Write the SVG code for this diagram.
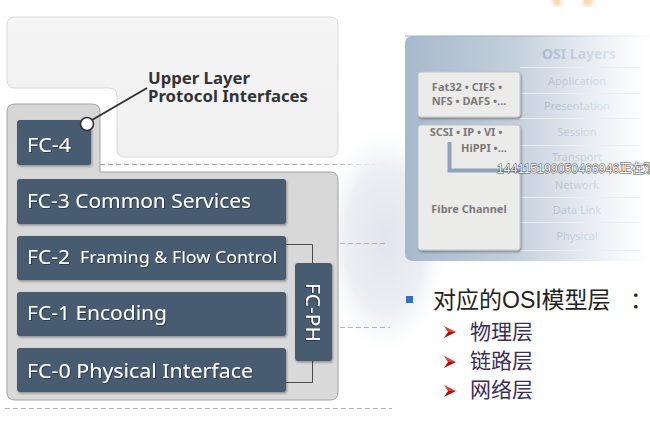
<svg xmlns="http://www.w3.org/2000/svg" width="650" height="424" viewBox="0 0 650 424">
<defs>
<style>
.bar{fill:#475c70}
.bt{font-family:"Noto Sans","Open Sans",sans-serif;fill:#fff;font-size:20px}
.bs{font-size:16.5px}
.lbl{font-family:"Noto Sans","Open Sans",sans-serif;font-weight:bold;fill:#333;font-size:16px}
.box{fill:#ebebe9;stroke:#c4c6c8;stroke-width:1}
.bx{font-family:"Noto Sans","Open Sans",sans-serif;font-weight:bold;fill:#7a7a7a;font-size:11px;text-anchor:middle}
.osi{font-family:"Noto Sans","Open Sans",sans-serif;font-size:11px;fill:url(#osiText);text-anchor:middle}
.dash{fill:none;stroke:#b5b5b5;stroke-width:1;stroke-dasharray:5 3}
.cn{font-family:"Liberation Sans","Noto Sans CJK SC",sans-serif}
.sub{font-family:"Noto Sans CJK SC",sans-serif;font-size:21px;fill:#3b2d5c}
</style>
<linearGradient id="panelG" x1="405" y1="0" x2="650" y2="0" gradientUnits="userSpaceOnUse">
<stop offset="0" stop-color="#a6b9cc"/>
<stop offset="0.45" stop-color="#c3d0dc"/>
<stop offset="0.72" stop-color="#e4eaf0"/>
<stop offset="0.92" stop-color="#fafbfc"/>
<stop offset="1" stop-color="#ffffff"/>
</linearGradient>
<linearGradient id="osiText" x1="520" y1="0" x2="645" y2="0" gradientUnits="userSpaceOnUse">
<stop offset="0" stop-color="#9eafc1"/>
<stop offset="1" stop-color="#f2f5f8"/>
</linearGradient>
<linearGradient id="dashFade" x1="100" y1="0" x2="400" y2="0" gradientUnits="userSpaceOnUse">
<stop offset="0" stop-color="#9a9a9a"/>
<stop offset="0.8" stop-color="#b8b8b8"/>
<stop offset="1" stop-color="#ffffff" stop-opacity="0"/>
</linearGradient>
<linearGradient id="contG" x1="0" y1="104" x2="0" y2="400" gradientUnits="userSpaceOnUse">
<stop offset="0" stop-color="#d6d6d6"/>
<stop offset="1" stop-color="#dadada"/>
</linearGradient>
<linearGradient id="topG" x1="0" y1="17" x2="0" y2="157" gradientUnits="userSpaceOnUse">
<stop offset="0" stop-color="#f5f5f5"/>
<stop offset="1" stop-color="#f0f0f0"/>
</linearGradient>
<radialGradient id="blob" cx="385" cy="240" r="120" gradientUnits="userSpaceOnUse" gradientTransform="translate(385 240) scale(0.55 1) translate(-385 -240)">
<stop offset="0" stop-color="#e2e6ec"/>
<stop offset="0.6" stop-color="#ebeef2"/>
<stop offset="1" stop-color="#ffffff" stop-opacity="0"/>
</radialGradient>
<filter id="sh" x="-10%" y="-20%" width="120%" height="150%">
<feDropShadow dx="1" dy="1.5" stdDeviation="1" flood-color="#000" flood-opacity="0.35"/>
</filter>
<filter id="ts" x="-5%" y="-20%" width="110%" height="150%">
<feDropShadow dx="0.8" dy="0.8" stdDeviation="0.4" flood-color="#1c2630" flood-opacity="0.8"/>
</filter>
<filter id="blur"><feGaussianBlur stdDeviation="2"/></filter>
</defs>

<rect width="650" height="424" fill="#ffffff"/>
<ellipse cx="385" cy="240" rx="70" ry="125" fill="url(#blob)"/>
<g filter="url(#blur)" fill="#f7c890" opacity="0.8">
<rect x="553" y="-4" width="8" height="10" rx="3"/>
<rect x="583" y="-4" width="9" height="10" rx="3"/>
</g>

<!-- Left diagram -->
<g id="upper-layer-area">
<path d="M15,17 H330 Q338,17 338,25 V149 Q338,157 330,157 H125 Q117,157 117,149 V96 Q117,88 109,88 H15 Q7,88 7,80 V25 Q7,17 15,17 Z" fill="url(#topG)" stroke="#d8d8d8" stroke-width="1"/>
</g>

<g id="fc-container">
<path d="M15,104 H92 Q100,104 100,112 V172 H330 Q338,172 338,180 V392 Q338,400 330,400 H15 Q7,400 7,392 V112 Q7,104 15,104 Z" fill="url(#contG)" stroke="#a3a3a3" stroke-width="1"/>
</g>

<g id="connectors">
<line x1="100" y1="164.5" x2="400" y2="164.5" stroke="url(#dashFade)" stroke-width="1" stroke-dasharray="5 3"/>
<line x1="5" y1="408.5" x2="392" y2="408.5" class="dash" stroke="#c2c2c2"/>
<line x1="340" y1="243.5" x2="386" y2="243.5" class="dash" stroke="#c8c8c8"/>
<line x1="340" y1="327.5" x2="390" y2="327.5" class="dash" stroke="#c8c8c8"/>
<path d="M286,244.5 H312.5 V263 M312.5,361 V382.5 H286" fill="none" stroke="#4a4a4a" stroke-width="1"/>
<line x1="92" y1="120" x2="147" y2="88" stroke="#333" stroke-width="2"/>
</g>

<g id="fc4">
<rect x="17" y="120" width="74" height="45" rx="3" class="bar" filter="url(#sh)"/>
<text x="27" y="152" class="bt" textLength="44" lengthAdjust="spacingAndGlyphs" filter="url(#ts)">FC-4</text>
<circle cx="87" cy="124" r="6.5" fill="#fff" stroke="#333" stroke-width="1.6"/>
</g>

<g id="upper-label">
<text x="148" y="84" class="lbl" textLength="102" lengthAdjust="spacingAndGlyphs">Upper Layer</text>
<text x="148" y="102" class="lbl" textLength="160" lengthAdjust="spacingAndGlyphs">Protocol Interfaces</text>
</g>

<g id="fc3">
<rect x="17" y="179" width="269" height="45" rx="3" class="bar" filter="url(#sh)"/>
<text x="27" y="208" class="bt" textLength="224" lengthAdjust="spacingAndGlyphs" filter="url(#ts)">FC-3 Common Services</text>
</g>

<g id="fc2">
<rect x="17" y="236" width="269" height="44" rx="3" class="bar" filter="url(#sh)"/>
<text x="27" y="264" class="bt" textLength="43" lengthAdjust="spacingAndGlyphs" filter="url(#ts)">FC-2</text>
<text x="80" y="263" class="bt bs" textLength="197" lengthAdjust="spacingAndGlyphs" filter="url(#ts)">Framing &amp; Flow Control</text>
</g>

<g id="fc1">
<rect x="17" y="292" width="269" height="44" rx="3" class="bar" filter="url(#sh)"/>
<text x="27" y="320" class="bt" textLength="140" lengthAdjust="spacingAndGlyphs" filter="url(#ts)">FC-1 Encoding</text>
</g>

<g id="fc0">
<rect x="17" y="348" width="269" height="44" rx="3" class="bar" filter="url(#sh)"/>
<text x="27" y="378" class="bt" textLength="226" lengthAdjust="spacingAndGlyphs" filter="url(#ts)">FC-0 Physical Interface</text>
</g>

<g id="fcph">
<rect x="295" y="263" width="37" height="98" rx="3" class="bar" filter="url(#sh)"/>
<text transform="translate(306 283) rotate(90)" x="0" y="0" class="bt" font-size="19" textLength="59" lengthAdjust="spacingAndGlyphs" filter="url(#ts)">FC-PH</text>
</g>

<!-- OSI panel -->
<g id="osi-panel">
<path d="M413,36 H650 V261 H413 Q405,261 405,253 V44 Q405,36 413,36 Z" fill="url(#panelG)"/>
<line x1="405" y1="36" x2="650" y2="36" stroke="url(#osiText)" stroke-width="1"/>
<g stroke="#e9eef3" stroke-width="1">
<line x1="520" y1="67.5" x2="640" y2="67.5"/>
<line x1="520" y1="93.5" x2="640" y2="93.5"/>
<line x1="520" y1="118.5" x2="640" y2="118.5"/>
<line x1="520" y1="145.5" x2="640" y2="145.5"/>
<line x1="520" y1="170.5" x2="640" y2="170.5"/>
<line x1="520" y1="197.5" x2="640" y2="197.5"/>
<line x1="520" y1="222.5" x2="640" y2="222.5"/>
<line x1="520" y1="250.5" x2="640" y2="250.5"/>
</g>
<text x="542" y="59" font-family="Noto Sans, sans-serif" font-weight="bold" font-size="14" fill="url(#osiText)">OSI Layers</text>
<text x="577" y="85" class="osi">Application</text>
<text x="577" y="110" class="osi">Presentation</text>
<text x="577" y="136" class="osi">Session</text>
<text x="577" y="161" class="osi">Transport</text>
<text x="577" y="189" class="osi">Network</text>
<text x="577" y="214" class="osi">Data Link</text>
<text x="577" y="240" class="osi">Physical</text>
</g>

<g id="box-fs">
<rect x="418" y="72" width="102" height="45" rx="3" class="box" filter="url(#sh)"/>
<text x="467" y="91" class="bx">Fat32 • CIFS •</text>
<text x="469" y="105" class="bx">NFS • DAFS •...</text>
</g>

<g id="box-fc">
<rect x="418" y="125" width="102" height="125" rx="3" class="box" filter="url(#sh)"/>
<path d="M449.5,142 V170.5 H521" fill="none" stroke="#8ea3b9" stroke-width="4"/>
<text x="466" y="136" class="bx">SCSI • IP • VI •</text>
<text x="484" y="152" class="bx">HiPPI •...</text>
<text x="469" y="213" class="bx" font-size="11.5">Fibre Channel</text>
</g>

<text x="497" y="173" font-family="Liberation Sans, Noto Sans CJK SC, sans-serif" font-size="12.3" fill="#ffffff" stroke="#505050" stroke-width="1" paint-order="stroke">144115199050466946正在观看</text>

<!-- bullet text -->
<g id="bullets">
<rect x="406" y="296" width="7" height="7" fill="#2f72c0"/>
<text x="433" y="308" class="cn" font-size="23" fill="#222">对应的OSI模型层<tspan x="630">：</tspan></text>
<g>
<polygon points="444,326 456,332 448,332" fill="#e53a2e"/>
<polygon points="448,332 456,332 444,338" fill="#a8100c"/>
<polygon points="444,356 456,362 448,362" fill="#e53a2e"/>
<polygon points="448,362 456,362 444,368" fill="#a8100c"/>
<polygon points="444,385 456,391 448,391" fill="#e53a2e"/>
<polygon points="448,391 456,391 444,397" fill="#a8100c"/>
</g>
<text x="470" y="339" class="sub">物理层</text>
<text x="470" y="368" class="sub">链路层</text>
<text x="470" y="397" class="sub">网络层</text>
</g>
</svg>
